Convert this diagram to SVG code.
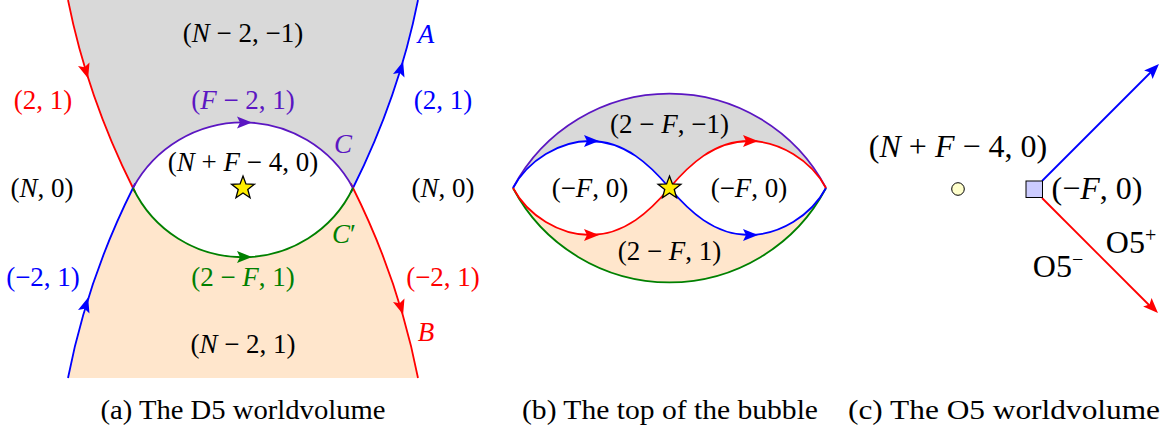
<svg xmlns="http://www.w3.org/2000/svg" xmlns:xlink="http://www.w3.org/1999/xlink" width="1164" height="429" viewBox="0 0 1164 429">
<style>
text{font-family:'Liberation Serif',serif;font-size:27px;fill:#000;text-anchor:middle}
.i{font-style:italic}
.cap{font-size:28px}
.big{font-size:32px}
.ln{fill:none;stroke-width:1.8}
.r{stroke:#ff0000}.b{stroke:#0000ff}.p{stroke:#5b16c2}.g{stroke:#008000}
.tr{fill:#ff0000}.tb{fill:#0000ff}.tp{fill:#5b16c2}.tg{fill:#008000}
.gray{fill:#d9d9d9}.peach{fill:#ffe6cc}
.star{fill:#ffee00;stroke:#000;stroke-width:1.3}
</style>
<defs>
<path id="ah" d="M9,0 L-6,-6 L-3,0 L-6,6 Z"/>
<path id="st" d="M0,-12 L2.94,-4.05 L11.41,-3.71 L4.76,1.55 L7.05,9.71 L0,5 L-7.05,9.71 L-4.76,1.55 L-11.41,-3.71 L-2.94,-4.05 Z"/>
</defs>

<g id="panel-a-regions">
<path class="gray" d="M68,0 Q87.3,96.7 133,188 A125,125 0 0 1 353,188 Q398.7,96.7 418,0 Z"/>
<path class="peach" d="M68,378 Q87.3,279.3 133,188 A122,122 0 0 0 353,188 Q398.7,279.3 418,378 Z"/>
</g>
<g id="panel-b-regions">
<path class="gray" d="M513,188 A177,177 0 0 1 826,188 C811,160 779,141 749,141 C714,141 689,165 669.5,188 C650,165 625,141 590,141 C560,141 528,160 513,188 Z"/>
<path class="peach" d="M513,188 A177,177 0 0 0 826,188 C811,216 779,235 749,235 C714,235 689,211 669.5,188 C650,211 625,235 590,235 C560,235 528,216 513,188 Z"/>
</g>

<g id="connectors">
<path class="ln r" d="M68,0 Q87.3,96.7 133,188 L135.2,192.5"/>
<path class="ln b" d="M68,378 Q87.3,279.3 133,188 L135.2,183.5"/>
<path class="ln b" d="M418,0 Q398.7,96.7 353,188 L350.8,192.5"/>
<path class="ln r" d="M418,378 Q398.7,279.3 353,188 L350.8,183.5"/>
<path class="ln p" d="M133,188 A125,125 0 0 1 353,188"/>
<path class="ln g" d="M133,188 A122,122 0 0 0 353,188"/>
<use xlink:href="#ah" class="tr" transform="translate(85.5,70) rotate(73)"/>
<use xlink:href="#ah" class="tb" transform="translate(400.5,70) rotate(-73)"/>
<use xlink:href="#ah" class="tb" transform="translate(85.5,306) rotate(-73)"/>
<use xlink:href="#ah" class="tr" transform="translate(400.5,306) rotate(73)"/>
<use xlink:href="#ah" class="tp" transform="translate(243,122.4)"/>
<use xlink:href="#ah" class="tg" transform="translate(243,257)"/>
<path class="ln p" d="M513,188 A177,177 0 0 1 826,188"/>
<path class="ln g" d="M513,188 A177,177 0 0 0 826,188"/>
<path class="ln b" d="M513,188 C528,160 560,141 590,141 C625,141 650,165 669.5,188 C689,211 714,235 749,235 C779,235 811,216 826,188"/>
<path class="ln r" d="M513,188 C528,216 560,235 590,235 C625,235 650,211 669.5,188 C689,165 714,141 749,141 C779,141 811,160 826,188"/>
<use xlink:href="#ah" class="tb" transform="translate(590,141)"/>
<use xlink:href="#ah" class="tr" transform="translate(749,141)"/>
<use xlink:href="#ah" class="tr" transform="translate(590,235)"/>
<use xlink:href="#ah" class="tb" transform="translate(749,235)"/>
<path class="ln b" d="M1042,181 L1152,71"/>
<path class="ln r" d="M1042,198 L1151,307"/>
<use xlink:href="#ah" class="tb" transform="translate(1152.6,70.4) rotate(-45)"/>
<use xlink:href="#ah" class="tr" transform="translate(1151.6,306.6) rotate(45)"/>
</g>

<g id="star-a"><use xlink:href="#st" class="star" transform="translate(243,188)"/></g>
<g id="star-b"><use xlink:href="#st" class="star" transform="translate(669.5,188)"/></g>
<g id="o5-point"><circle cx="958" cy="189" r="6.3" fill="#ffffcc" stroke="#000" stroke-width="1"/></g>
<g id="o5-square"><rect x="1026" y="181" width="16.5" height="16.5" fill="#ccccff" stroke="#000" stroke-width="1"/></g>

<g id="labels-a">
<text x="243" y="42">(<tspan class="i">N</tspan> − 2, −1)</text>
<text x="426" y="43" class="i tb">A</text>
<text x="43" y="109" class="tr">(2, 1)</text>
<text x="443" y="109" class="tb">(2, 1)</text>
<text x="243" y="109" class="tp">(<tspan class="i">F</tspan> − 2, 1)</text>
<text x="343" y="153" class="i tp">C</text>
<text x="243" y="171">(<tspan class="i">N</tspan> + <tspan class="i">F</tspan> − 4, 0)</text>
<text x="42" y="197">(<tspan class="i">N</tspan>, 0)</text>
<text x="443" y="197">(<tspan class="i">N</tspan>, 0)</text>
<text x="344" y="243" class="tg"><tspan class="i">C</tspan>′</text>
<text x="43" y="286" class="tb">(−2, 1)</text>
<text x="243" y="286" class="tg">(2 − <tspan class="i">F</tspan>, 1)</text>
<text x="443" y="286" class="tr">(−2, 1)</text>
<text x="426" y="341" class="i tr">B</text>
<text x="243" y="353">(<tspan class="i">N</tspan> − 2, 1)</text>
<text x="243" y="419" class="cap" textLength="285" lengthAdjust="spacingAndGlyphs">(a) The D5 worldvolume</text>
</g>

<g id="labels-b">
<text x="669.5" y="133">(2 − <tspan class="i">F</tspan>, −1)</text>
<text x="590" y="197">(−<tspan class="i">F</tspan>, 0)</text>
<text x="749" y="197">(−<tspan class="i">F</tspan>, 0)</text>
<text x="669.5" y="260">(2 − <tspan class="i">F</tspan>, 1)</text>
<text x="670" y="419" class="cap" textLength="296" lengthAdjust="spacingAndGlyphs">(b) The top of the bubble</text>
</g>

<g id="labels-c">
<text x="958" y="157" class="big">(<tspan class="i">N</tspan> + <tspan class="i">F</tspan> − 4, 0)</text>
<text x="1097" y="199" class="big">(−<tspan class="i">F</tspan>, 0)</text>
<text x="1131" y="253" class="big">O5<tspan dy="-11" font-size="20">+</tspan></text>
<text x="1058" y="277" class="big">O5<tspan dy="-11" font-size="20">−</tspan></text>
<text x="1004" y="419" class="cap" textLength="312" lengthAdjust="spacingAndGlyphs">(c) The O5 worldvolume</text>
</g>
</svg>
